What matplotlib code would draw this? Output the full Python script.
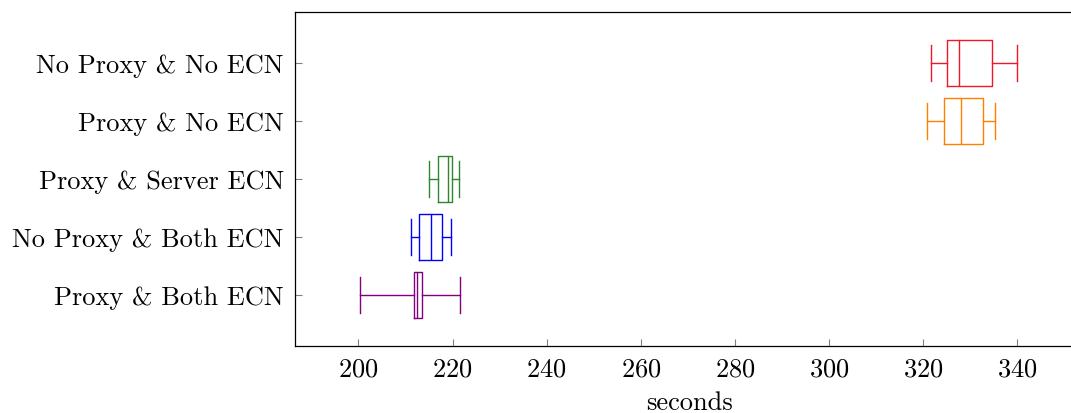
import matplotlib
matplotlib.use("Agg")
import matplotlib.pyplot as plt

plt.rcParams["font.family"] = ["cmr10", "DejaVu Serif"]
plt.rcParams["mathtext.fontset"] = "cm"
plt.rcParams["axes.formatter.use_mathtext"] = True

labels = [
    "Proxy & Both ECN",
    "No Proxy & Both ECN",
    "Proxy & Server ECN",
    "Proxy & No ECN",
    "No Proxy & No ECN",
]
whislo = [200.4, 211.1, 215.0, 320.9, 321.7]
q1 = [211.8, 212.8, 217.0, 324.4, 325.1]
med = [212.5, 215.5, 219.0, 328.1, 327.6]
q3 = [213.4, 217.7, 219.9, 332.8, 334.7]
whishi = [221.6, 219.6, 221.3, 335.2, 340.0]
colors = ["#800080", "#0000ff", "#2e872e", "#ff8000", "#f01828"]


def build_stats():
    stats = []
    for i, lab in enumerate(labels):
        stats.append({
            "label": lab,
            "whislo": whislo[i],
            "q1": q1[i],
            "med": med[i],
            "q3": q3[i],
            "whishi": whishi[i],
            "fliers": [],
        })
    return stats


def main():
    fig = plt.figure(figsize=(10.71, 4.14), dpi=100)
    ax = fig.add_axes([0.2754, 0.1618, 0.7367, 0.8068])

    positions = list(range(1, len(labels) + 1))
    bp = ax.bxp(
        build_stats(),
        positions=positions,
        vert=False,
        widths=0.8,
        capwidths=0.62,
        showfliers=False,
        manage_ticks=False,
    )
    for i, c in enumerate(colors):
        bp["boxes"][i].set(color=c, linewidth=1.0)
        bp["medians"][i].set(color=c, linewidth=1.0)
        for part in ("whiskers", "caps"):
            for line in bp[part][2 * i:2 * i + 2]:
                line.set(color=c, linewidth=1.0)

    ax.set_xlim(186.5, 354.2)
    ax.set_ylim(0.12, 5.88)
    ax.set_xticks(range(200, 341, 20))
    ax.set_yticks(positions)
    ax.set_yticklabels(labels)
    ax.tick_params(direction="in", length=5, color="#808080", labelsize=19, pad=8)
    ax.set_xlabel("seconds", fontsize=19, labelpad=7)
    for s in ax.spines.values():
        s.set_linewidth(0.9)

    fig.savefig("out.png", dpi=100)
    plt.close(fig)


if __name__ == "__main__":
    main()
